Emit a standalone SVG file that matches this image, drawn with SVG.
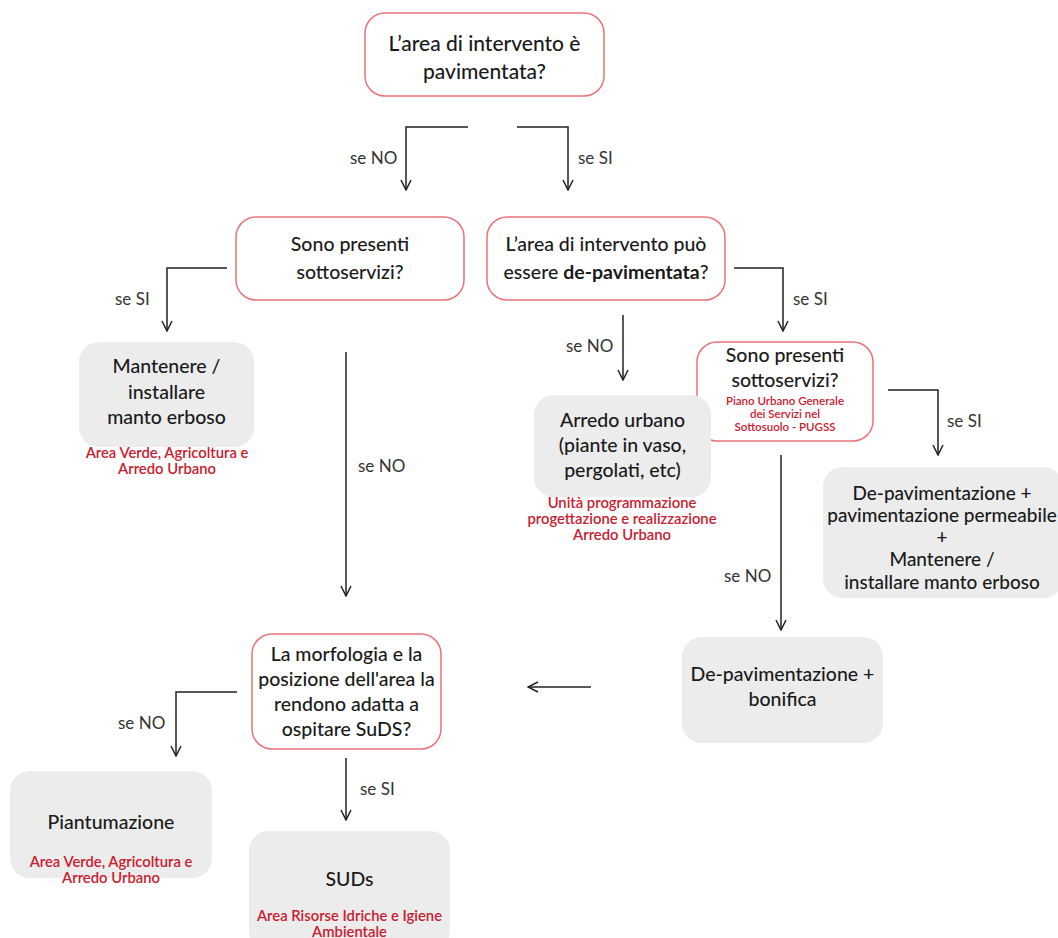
<svg xmlns="http://www.w3.org/2000/svg" width="1058" height="938" viewBox="0 0 1058 938">
<style>
.q{fill:#fff;stroke:#e9737a;stroke-width:1.5}
.g{fill:#ececec;stroke:none}
.t{font-family:Lato,"Noto Sans",sans-serif;font-size:19.5px;font-weight:500;fill:#1a1a1a;text-anchor:middle}
.r{font-family:Lato,"Noto Sans",sans-serif;font-size:14.8px;font-weight:600;fill:#c8202f;text-anchor:middle}
.rs{font-family:Lato,"Noto Sans",sans-serif;font-size:11.5px;font-weight:600;fill:#c8202f;text-anchor:middle}
.l{font-family:Lato,"Noto Sans",sans-serif;font-size:17px;fill:#333}
.c{fill:none;stroke:#222;stroke-width:1.5}
</style>
<defs>
<marker id="a" viewBox="0 0 12 12" refX="11" refY="6" markerWidth="12" markerHeight="12" markerUnits="userSpaceOnUse" orient="auto">
<path d="M1,1 L11,6 L1,11" fill="none" stroke="#222" stroke-width="1.5"/>
</marker>
</defs>
<rect width="1058" height="938" fill="#fff"/>
<g id="connectors">
<path class="c" d="M468,127 H406 V190" marker-end="url(#a)"/>
<path class="c" d="M517,127 H568 V190" marker-end="url(#a)"/>
<path class="c" d="M227,268 H167 V331" marker-end="url(#a)"/>
<path class="c" d="M346,352 V596" marker-end="url(#a)"/>
<path class="c" d="M623,315 V380" marker-end="url(#a)"/>
<path class="c" d="M734,268 H783 V331" marker-end="url(#a)"/>
<path class="c" d="M888,390 H938 V455" marker-end="url(#a)"/>
<path class="c" d="M781,455 V630" marker-end="url(#a)"/>
<path class="c" d="M591,687 H528" marker-end="url(#a)"/>
<path class="c" d="M237,692 H176 V756" marker-end="url(#a)"/>
<path class="c" d="M346,758 V820" marker-end="url(#a)"/>
<text class="l" x="350" y="164">se NO</text>
<text class="l" x="578" y="164">se SI</text>
<text class="l" x="115" y="305">se SI</text>
<text class="l" x="358" y="472">se NO</text>
<text class="l" x="566" y="352">se NO</text>
<text class="l" x="793" y="305">se SI</text>
<text class="l" x="947" y="427">se SI</text>
<text class="l" x="724" y="582">se NO</text>
<text class="l" x="118" y="729">se NO</text>
<text class="l" x="360" y="795">se SI</text>
</g>
<g id="n1">
<rect class="q" x="365" y="13" width="239" height="83" rx="20"/>
<text class="t" x="484.5" y="51" style="font-size:21px">L’area di intervento è</text>
<text class="t" x="484.5" y="79" style="font-size:21px">pavimentata?</text>
</g>
<g id="n2">
<rect class="q" x="236" y="217" width="228" height="83" rx="20"/>
<text class="t" x="350" y="251">Sono presenti</text>
<text class="t" x="350" y="279">sottoservizi?</text>
</g>
<g id="n3">
<rect class="q" x="487" y="217" width="238" height="83" rx="20"/>
<text class="t" x="606" y="251">L’area di intervento può</text>
<text class="t" x="606" y="279">essere <tspan font-weight="700">de-pavimentata</tspan>?</text>
</g>
<g id="n4">
<rect class="g" x="79" y="342" width="175" height="105" rx="20"/>
<text class="t" x="166.5" y="373">Mantenere /</text>
<text class="t" x="166.5" y="399">installare</text>
<text class="t" x="166.5" y="424">manto erboso</text>
<text class="r" x="167" y="458">Area Verde, Agricoltura e</text>
<text class="r" x="167" y="474">Arredo Urbano</text>
</g>
<g id="n5">
<rect class="q" x="697" y="342" width="176" height="99" rx="20"/>
<text class="t" x="785" y="362">Sono presenti</text>
<text class="t" x="785" y="387">sottoservizi?</text>
<text class="rs" x="785" y="405">Piano Urbano Generale</text>
<text class="rs" x="785" y="418">dei Servizi nel</text>
<text class="rs" x="785" y="431">Sottosuolo - PUGSS</text>
</g>
<g id="n6">
<rect class="g" x="534" y="395" width="177" height="102" rx="20"/>
<text class="t" x="622.5" y="427">Arredo urbano</text>
<text class="t" x="622.5" y="452">(piante in vaso,</text>
<text class="t" x="622.5" y="477">pergolati, etc)</text>
<text class="r" x="622" y="508">Unità programmazione</text>
<text class="r" x="622" y="524">progettazione e realizzazione</text>
<text class="r" x="622" y="540">Arredo Urbano</text>
</g>
<g id="n7">
<rect class="g" x="823" y="467" width="240" height="131" rx="20"/>
<text class="t" x="942" y="500" style="font-size:19px">De-pavimentazione +</text>
<text class="t" x="942" y="522" style="font-size:19px">pavimentazione permeabile</text>
<text class="t" x="942" y="544" style="font-size:19px">+</text>
<text class="t" x="942" y="566" style="font-size:19px">Mantenere /</text>
<text class="t" x="942" y="589" style="font-size:19px">installare manto erboso</text>
</g>
<g id="n8">
<rect class="g" x="682" y="637" width="201" height="106" rx="20"/>
<text class="t" x="782.5" y="681">De-pavimentazione +</text>
<text class="t" x="782.5" y="706">bonifica</text>
</g>
<g id="n9">
<rect class="q" x="252" y="634" width="189" height="115" rx="20"/>
<text class="t" x="346.5" y="661">La morfologia e la</text>
<text class="t" x="346.5" y="686">posizione dell'area la</text>
<text class="t" x="346.5" y="711">rendono adatta a</text>
<text class="t" x="346.5" y="736">ospitare SuDS?</text>
</g>
<g id="n10">
<rect class="g" x="10" y="771" width="202" height="107" rx="20"/>
<text class="t" x="111" y="829">Piantumazione</text>
<text class="r" x="111" y="867">Area Verde, Agricoltura e</text>
<text class="r" x="111" y="883">Arredo Urbano</text>
</g>
<g id="n11">
<rect class="g" x="249" y="831" width="201" height="120" rx="20"/>
<text class="t" x="349.5" y="886">SUDs</text>
<text class="r" x="349.5" y="921">Area Risorse Idriche e Igiene</text>
<text class="r" x="349.5" y="937">Ambientale</text>
</g>
</svg>
